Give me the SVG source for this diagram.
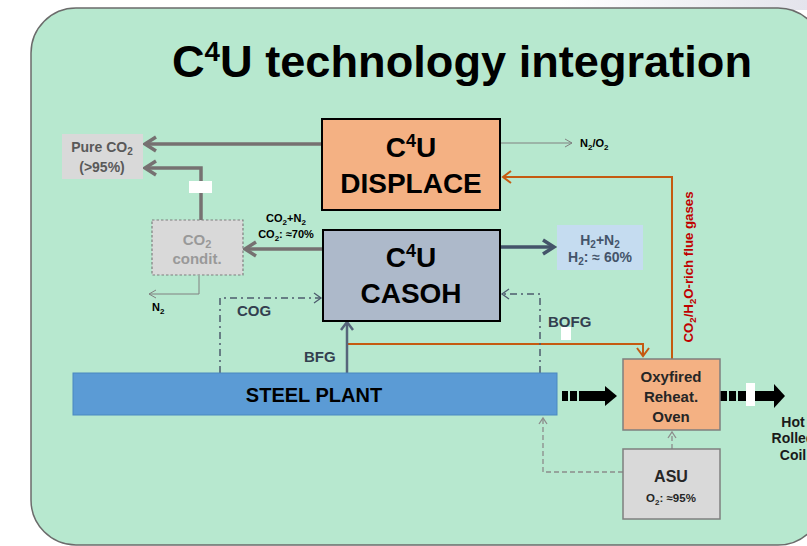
<svg xmlns="http://www.w3.org/2000/svg" width="807" height="546" viewBox="0 0 807 546">
<defs>
<linearGradient id="topg" x1="0" y1="0" x2="1" y2="0">
<stop offset="0" stop-color="#ffffff"/>
<stop offset="1" stop-color="#e4e4ec"/>
</linearGradient>
<marker id="mGray" markerUnits="userSpaceOnUse" markerWidth="20" markerHeight="20" viewBox="-14 -10 16 20" refX="0" refY="0" orient="auto" overflow="visible">
<path d="M-11,-7 L0,0 L-11,7" fill="none" stroke="#767171" stroke-width="3.5"/>
</marker>
<marker id="mBlue" markerUnits="userSpaceOnUse" markerWidth="20" markerHeight="20" viewBox="-14 -10 16 20" refX="0" refY="0" orient="auto" overflow="visible">
<path d="M-11,-7 L0,0 L-11,7" fill="none" stroke="#44546a" stroke-width="3.5"/>
</marker>
<marker id="mBfg" markerUnits="userSpaceOnUse" markerWidth="20" markerHeight="20" viewBox="-14 -10 16 20" refX="0" refY="0" orient="auto" overflow="visible">
<path d="M-8,-6 L0,0 L-8,6" fill="none" stroke="#56657a" stroke-width="2.5"/>
</marker>
<marker id="mOr" markerUnits="userSpaceOnUse" markerWidth="20" markerHeight="20" viewBox="-14 -10 16 20" refX="0" refY="0" orient="auto" overflow="visible">
<path d="M-8,-6 L0,0 L-8,6" fill="none" stroke="#c55a11" stroke-width="2"/>
</marker>
<marker id="mThin" markerUnits="userSpaceOnUse" markerWidth="20" markerHeight="20" viewBox="-14 -10 16 20" refX="0" refY="0" orient="auto" overflow="visible">
<path d="M-7,-4 L0,0 L-7,4" fill="none" stroke="#808080" stroke-width="1"/>
</marker>
<marker id="mDash" markerUnits="userSpaceOnUse" markerWidth="20" markerHeight="20" viewBox="-14 -10 16 20" refX="0" refY="0" orient="auto" overflow="visible">
<path d="M-7,-5 L0,0 L-7,5" fill="none" stroke="#4d5b6e" stroke-width="1.3"/>
</marker>
<marker id="mAsu" markerUnits="userSpaceOnUse" markerWidth="20" markerHeight="20" viewBox="-14 -10 16 20" refX="0" refY="0" orient="auto" overflow="visible">
<path d="M-6,-4 L0,0 L-6,4" fill="none" stroke="#8c8c8c" stroke-width="1.3"/>
</marker>
</defs>
<style>
text { font-family: "Liberation Sans", Arial, sans-serif; font-weight: bold; }
.c { text-anchor: middle; }
.gthick { fill: none; stroke: #767171; stroke-width: 3.5; }
.bthick { fill: none; stroke: #44546a; stroke-width: 3.5; }
.orange { fill: none; stroke: #c55a11; stroke-width: 2; }
.thin { fill: none; stroke: #808080; stroke-width: 1; }
.dashdot { fill: none; stroke: #4d5b6e; stroke-width: 1.5; stroke-dasharray: 7,4,2,4; }
.asu { fill: none; stroke: #8c8c8c; stroke-width: 1.3; stroke-dasharray: 5,3; }
.white { fill: #ffffff; }
</style>

<rect x="560" y="0" width="247" height="10" fill="url(#topg)"/>
<rect id="background" x="31" y="8" width="792" height="537" rx="45" ry="45" fill="#b7e8cf" stroke="#6b6b6b" stroke-width="1.5"/>

<text id="title" x="172" y="77" font-size="44" textLength="580" lengthAdjust="spacingAndGlyphs">C<tspan font-size="27" dy="-16">4</tspan><tspan dy="16">U technology integration</tspan></text>

<g id="connectors">
  <path class="gthick" d="M322,144 H145" marker-end="url(#mGray)"/>
  <path class="gthick" d="M201,220 V168 H145" marker-end="url(#mGray)"/>
  <path class="gthick" d="M323,249 H245" marker-end="url(#mGray)"/>
  <path class="thin" d="M199,276 V294 H149" marker-end="url(#mThin)"/>
  <path class="thin" d="M500,143 H572" marker-end="url(#mThin)"/>
  <path class="bthick" d="M500,247 H554" marker-end="url(#mBlue)"/>
  <path class="orange" d="M672,359 V177 H503" marker-end="url(#mOr)"/>
  <path class="orange" d="M347,344 H643 V356" marker-end="url(#mOr)"/>
  <path fill="none" stroke="#56657a" stroke-width="2.5" d="M347,373 V322" marker-end="url(#mBfg)"/>
  <path class="dashdot" d="M220,373 V298 H321" marker-end="url(#mDash)"/>
  <path class="dashdot" d="M540,373 V294 H502" marker-end="url(#mDash)"/>
  <path class="asu" d="M623,472 H543 V418" marker-end="url(#mAsu)"/>
  <path class="asu" d="M672,449 V432" marker-end="url(#mAsu)"/>
  <g id="flow-plant-oven" fill="#000000">
    <rect x="562" y="391" width="6" height="10"/>
    <rect x="570" y="391" width="7" height="10"/>
    <rect x="579" y="391" width="27" height="10"/>
    <polygon points="605,386 617,396 605,406"/>
  </g>
  <g id="flow-oven-coil" fill="#000000">
    <rect x="720" y="391" width="7" height="10"/>
    <rect x="729" y="391" width="7" height="10"/>
    <rect x="738" y="391" width="37" height="10"/>
    <polygon points="774,384 785,396 774,408"/>
  </g>
  <rect class="white" x="189" y="181" width="23" height="12"/>
  <rect class="white" x="561" y="327" width="10" height="13"/>
  <rect class="white" x="746" y="383" width="9" height="23"/>
  <text x="286" y="222" font-size="11" class="c">CO<tspan font-size="8" dy="3">2</tspan><tspan dy="-3">+N</tspan><tspan font-size="8" dy="3">2</tspan></text>
  <text x="286" y="238" font-size="11" class="c">CO<tspan font-size="8" dy="3">2</tspan><tspan dy="-3">: ≈70%</tspan></text>
  <text x="152" y="311" font-size="11">N<tspan font-size="8" dy="3">2</tspan></text>
  <text x="580" y="147" font-size="11">N<tspan font-size="8" dy="3">2</tspan><tspan dy="-3">/O</tspan><tspan font-size="8" dy="3">2</tspan></text>
  <text x="237" y="316" font-size="15" fill="#333f4f">COG</text>
  <text x="304" y="362" font-size="15" fill="#333f4f">BFG</text>
  <text x="548" y="327" font-size="15" fill="#333f4f">BOFG</text>
  <text transform="translate(693,267) rotate(-90)" font-size="12.5" fill="#c00000" class="c" textLength="151" lengthAdjust="spacingAndGlyphs">CO<tspan font-size="9" dy="3">2</tspan><tspan dy="-3">/H</tspan><tspan font-size="9" dy="3">2</tspan><tspan dy="-3">O-rich flue gases</tspan></text>
</g>

<g id="pure-co2">
  <rect x="62" y="134" width="81" height="45" fill="#d9d9d9"/>
  <text x="102" y="152" font-size="14" fill="#595959" class="c">Pure CO<tspan font-size="10" dy="3">2</tspan></text>
  <text x="102" y="172" font-size="14" fill="#595959" class="c">(&gt;95%)</text>
</g>

<g id="displace">
  <rect x="322" y="119" width="178" height="91" fill="#f4b183" stroke="#000000" stroke-width="2"/>
  <text x="411" y="157" font-size="28" class="c">C<tspan font-size="18" dy="-10">4</tspan><tspan dy="10">U</tspan></text>
  <text x="411" y="193" font-size="28" class="c">DISPLACE</text>
</g>

<g id="casoh">
  <rect x="323" y="230" width="177" height="91" fill="#adb9ca" stroke="#000000" stroke-width="2"/>
  <text x="411" y="267" font-size="28" class="c">C<tspan font-size="18" dy="-10">4</tspan><tspan dy="10">U</tspan></text>
  <text x="411" y="303" font-size="28" class="c">CASOH</text>
</g>

<g id="co2-condit">
  <rect x="152" y="220" width="91" height="55" fill="#d9d9d9" stroke="#7f7f7f" stroke-width="1.2" stroke-dasharray="2.5,2"/>
  <text x="197" y="245" font-size="15" fill="#999999" class="c">CO<tspan font-size="11" dy="3">2</tspan></text>
  <text x="197" y="264" font-size="15" fill="#999999" class="c">condit.</text>
</g>

<g id="h2-n2">
  <rect x="557" y="225" width="86" height="45" fill="#c5dcf0"/>
  <text x="600" y="245" font-size="14" fill="#44546a" class="c">H<tspan font-size="10" dy="3">2</tspan><tspan dy="-3">+N</tspan><tspan font-size="10" dy="3">2</tspan></text>
  <text x="600" y="262" font-size="14" fill="#44546a" class="c">H<tspan font-size="10" dy="3">2</tspan><tspan dy="-3">: ≈ 60%</tspan></text>
</g>

<g id="steel-plant">
  <rect x="73" y="373" width="484" height="42" fill="#5b9bd5" stroke="#4a88c0" stroke-width="1"/>
  <text x="314" y="402" font-size="20" class="c">STEEL PLANT</text>
</g>

<g id="oven">
  <rect x="623" y="359" width="97" height="71" fill="#f4b183" stroke="#7f7f7f" stroke-width="1.5"/>
  <text x="671" y="382" font-size="15" fill="#262626" class="c">Oxyfired</text>
  <text x="671" y="402" font-size="15" fill="#262626" class="c">Reheat.</text>
  <text x="671" y="422" font-size="15" fill="#262626" class="c">Oven</text>
</g>

<g id="asu">
  <rect x="623" y="449" width="97" height="70" fill="#d9d9d9" stroke="#7f7f7f" stroke-width="1.5"/>
  <text x="671" y="482" font-size="16" fill="#262626" class="c">ASU</text>
  <text x="671" y="502" font-size="11.5" fill="#262626" class="c">O<tspan font-size="8" dy="3">2</tspan><tspan dy="-3">: ≈95%</tspan></text>
</g>

<g id="hot-rolled-coil">
  <text x="793" y="427" font-size="14" fill="#1a1a1a" class="c">Hot</text>
  <text x="793" y="443" font-size="14" fill="#1a1a1a" class="c">Rolled</text>
  <text x="793" y="460" font-size="14" fill="#1a1a1a" class="c">Coil</text>
</g>
</svg>
